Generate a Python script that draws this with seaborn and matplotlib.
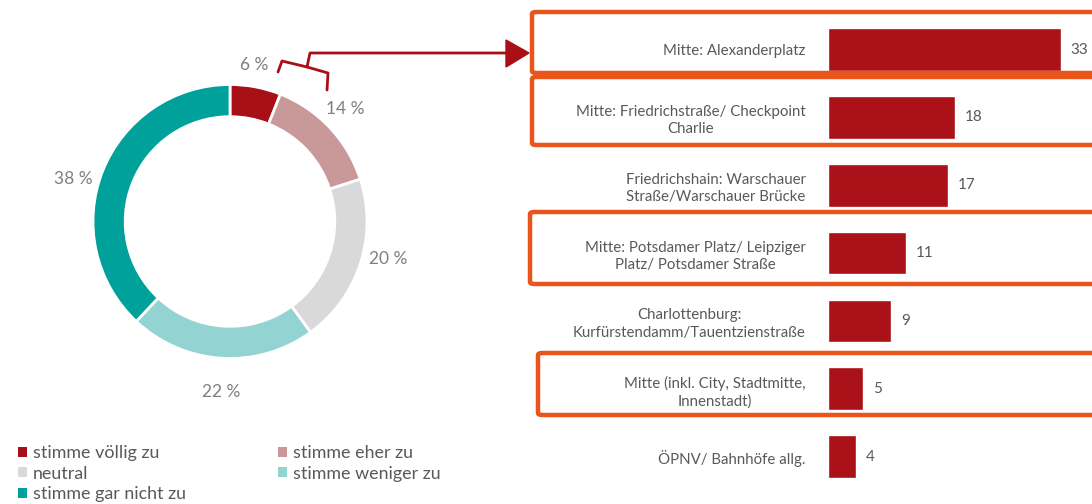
import matplotlib
matplotlib.use("Agg")
import matplotlib.pyplot as plt
import seaborn as sns
import numpy as np
import pandas as pd
from matplotlib.patches import Patch, FancyBboxPatch, Polygon
from matplotlib.lines import Line2D

# --- data -------------------------------------------------------------
pie_labels = ["stimme völlig zu", "stimme eher zu", "neutral",
              "stimme weniger zu", "stimme gar nicht zu"]
pie_values = [6, 14, 20, 22, 38]
pie_colors = ["#A80F16", "#C99999", "#D9D9D9", "#93D3D1", "#00A19B"]

places = ["Mitte: Alexanderplatz",
          "Mitte: Friedrichstraße/ Checkpoint\nCharlie",
          "Friedrichshain: Warschauer\nStraße/Warschauer Brücke",
          "Mitte: Potsdamer Platz/ Leipziger\nPlatz/ Potsdamer Straße",
          "Charlottenburg:\nKurfürstendamm/Tauentzienstraße",
          "Mitte (inkl. City, Stadtmitte,\nInnenstadt)",
          "ÖPNV/ Bahnhöfe allg."]
counts = [33, 18, 17, 11, 9, 5, 4]
highlighted = [0, 1, 3, 5]

# label nudges (pixels, x right / y up) to mimic Excel's label placement
label_nudge = [(-6, -4), (-4, 1), (3, 13), (1, -8), (-5, -18)]

sns.set_theme(style="white")
plt.rcParams["font.family"] = ["Lato", "DejaVu Sans"]

W, H = 1092, 504
fig = plt.figure(figsize=(W / 100, H / 100), dpi=100)


def fx(x):
    return x / W


def fy(y):
    return (H - y) / H


# --- donut ------------------------------------------------------------
cx, cy, R, S = 230, 221.5, 137, 190
ax_pie = fig.add_axes([fx(cx - S), fy(cy + S), 2 * S / W, 2 * S / H])
wedges, _ = ax_pie.pie(pie_values, colors=pie_colors, startangle=90,
                       counterclock=False,
                       wedgeprops=dict(width=0.235, edgecolor="white", linewidth=2))
ax_pie.set_aspect("equal")
lim = S / R
ax_pie.set_xlim(-lim, lim)
ax_pie.set_ylim(-lim, lim)

for w, v, (nx, ny) in zip(wedges, pie_values, label_nudge):
    ang = np.deg2rad((w.theta1 + w.theta2) / 2)
    ax_pie.annotate(f"{v} %", (1.19 * np.cos(ang), 1.19 * np.sin(ang)),
                    xytext=(nx * 0.72, ny * 0.72), textcoords="offset points",
                    ha="center", va="center", fontsize=12.5, color="#7F7F7F")

# legend, filled column-wise so rows read like the original
order = [0, 2, 4, 1, 3]
handles = [Patch(facecolor=pie_colors[i], edgecolor="none", label=pie_labels[i])
           for i in order]
fig.legend(handles=handles, ncol=2, loc="upper left",
           bbox_to_anchor=(fx(18), fy(445)), frameon=False,
           fontsize=12.9, labelcolor="#595959", handlelength=0.5,
           handleheight=0.5, handletextpad=0.35, columnspacing=5.1,
           labelspacing=0.26, borderaxespad=0, borderpad=0)

# --- bars -------------------------------------------------------------
df = pd.DataFrame({"place": places, "count": counts})
ax_bar = fig.add_axes([fx(828), fy(490.6), 261 / W, 475 / H])
sns.barplot(data=df, y="place", x="count", orient="h", color="#AA1118",
            saturation=1, width=0.63, ax=ax_bar)
ax_bar.set_xlim(0, 37)
ax_bar.set_xlabel("")
ax_bar.set_ylabel("")
ax_bar.set_xticks([])
ax_bar.tick_params(axis="y", length=0, pad=16, labelsize=10.8, labelcolor="#595959")
for t in ax_bar.get_yticklabels():
    t.set_multialignment("center")
    t.set_linespacing(1.3)
sns.despine(ax=ax_bar, left=True, bottom=True)
ax_bar.bar_label(ax_bar.containers[0], padding=7, fontsize=11, color="#595959")

# orange frames around highlighted rows (top, bottom, left in pixels)
frames = {0: (12, 73, 532), 1: (77, 145, 532), 3: (212, 284, 530), 5: (353, 415, 538)}
for i in highlighted:
    top, bot, left = frames[i]
    box = FancyBboxPatch((fx(left), fy(bot)), fx(W + 20 - left), (bot - top) / H,
                         boxstyle="round,pad=0,rounding_size=0.004",
                         transform=fig.transFigure, facecolor="none",
                         edgecolor="#E8541A", linewidth=3.2, clip_on=False)
    fig.add_artist(box)

# bracket and arrow from the 6 % wedge to the bar list
red = "#A80F16"
brace = [(278, 72), (282, 61), (307, 67), (328, 73), (327, 90)]
fig.add_artist(Line2D([fx(p[0]) for p in brace], [fy(p[1]) for p in brace],
                      color=red, linewidth=2, transform=fig.transFigure))
fig.add_artist(Line2D([fx(307), fx(310), fx(507)], [fy(67), fy(53), fy(53)],
                      color=red, linewidth=2, transform=fig.transFigure))
fig.add_artist(Polygon([(fx(506), fy(40)), (fx(529), fy(53)), (fx(506), fy(67))],
                       closed=True, color=red, transform=fig.transFigure))

fig.savefig("out.png", dpi=100)
